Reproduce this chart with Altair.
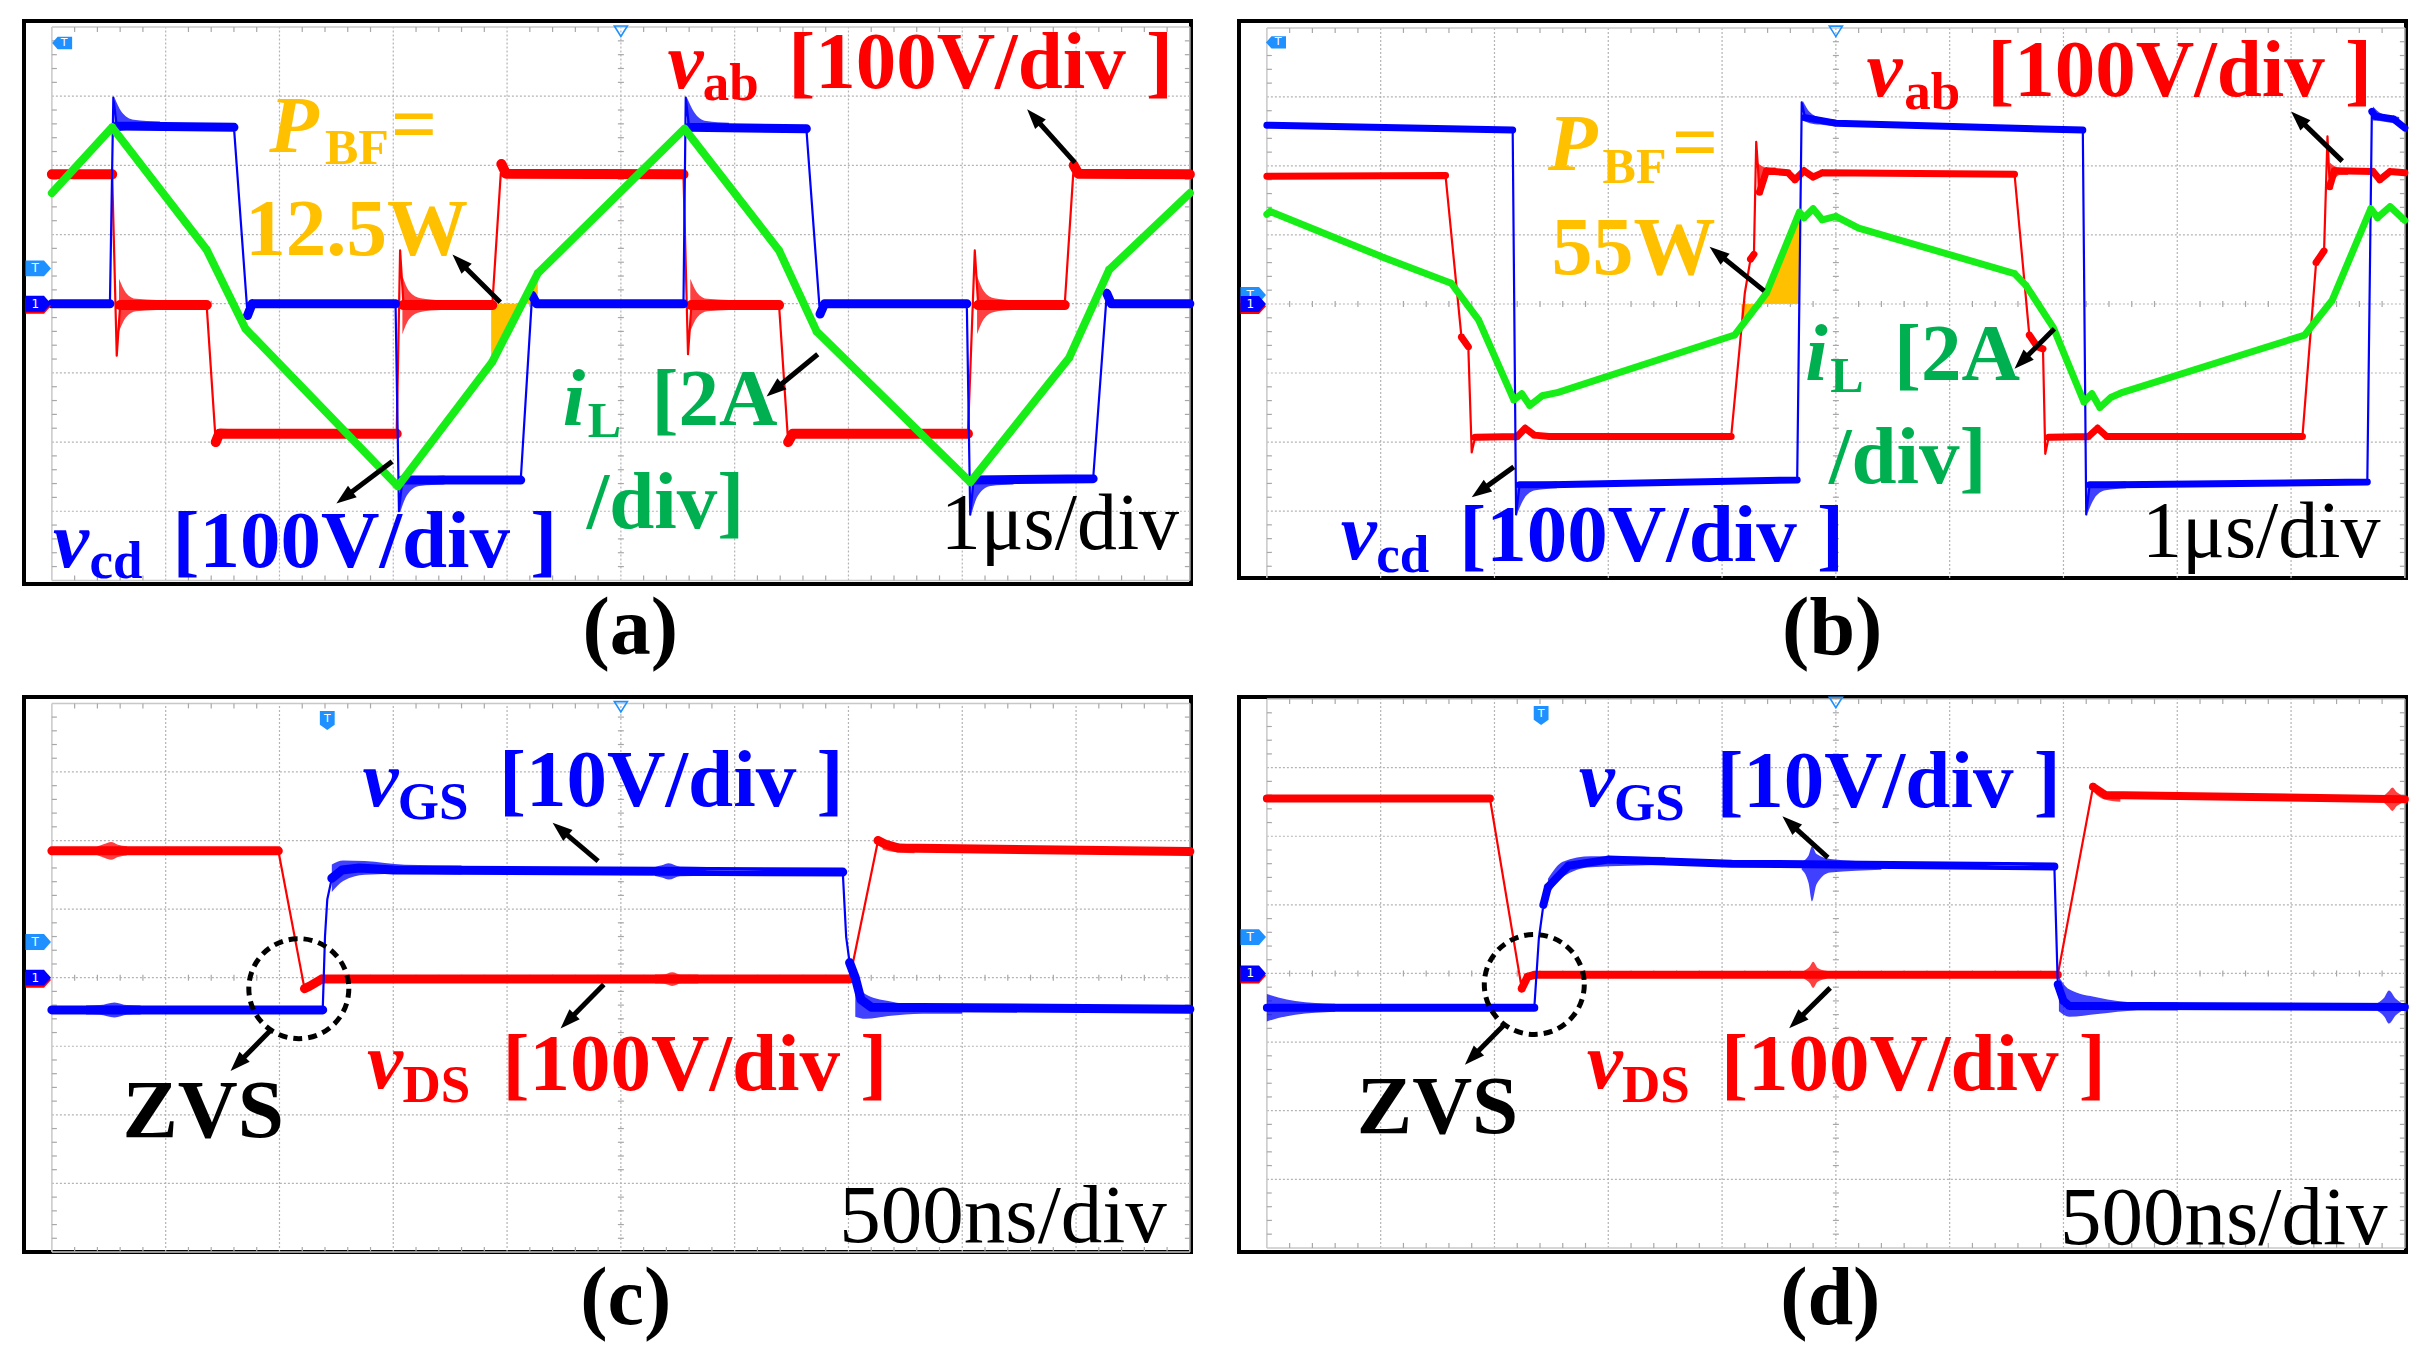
import altair as alt
import pandas as pd
import numpy as np

RED = "#FF0000"
BLUE = "#0000FF"
GREEN = "#17EE17"
GREEN_TXT = "#00B050"
ORANGE = "#FFC000"
BLACK = "#000000"
SCOPE_BLUE = "#1E90FF"
GRID = "#B4B4B4"
FONT = "Liberation Serif"

# ------------------------------------------------------------------ data (divisions)
# panel (a)
A_RED = [(0.00, 1.87), (0.53, 1.87), (0.57, -0.75), (0.60, -0.02), (1.36, -0.02), (1.44, -2.00),
         (1.47, -1.88), (3.03, -1.88), (3.06, 0.77), (3.09, -0.02), (3.87, -0.02), (3.95, 2.02),
         (3.99, 1.88), (5.55, 1.87), (5.59, -0.73), (5.62, -0.02), (6.39, -0.02), (6.47, -2.00),
         (6.51, -1.88), (8.05, -1.88), (8.11, 0.77), (8.14, -0.02), (8.90, -0.02), (8.98, 2.00),
         (9.02, 1.88), (10.00, 1.87)]
A_BLUE = [(0.00, 0.00), (0.51, 0.00), (0.54, 2.98), (0.57, 2.57), (1.60, 2.55), (1.72, -0.17),
          (1.76, 0.00), (3.02, 0.00), (3.05, -3.00), (3.08, -2.55), (4.12, -2.55), (4.22, 0.12),
          (4.26, 0.00), (5.55, 0.00), (5.57, 2.98), (5.60, 2.55), (6.63, 2.53), (6.75, -0.15),
          (6.79, 0.00), (8.04, 0.00), (8.07, -3.05), (8.10, -2.55), (9.15, -2.53), (9.27, 0.15),
          (9.31, 0.00), (10.00, 0.00)]
A_GREEN = [(0.00, 1.60), (0.53, 2.55), (1.36, 0.78), (1.70, -0.36), (3.04, -2.64), (3.87, -0.84),
           (4.27, 0.44), (5.56, 2.53), (6.39, 0.77), (6.72, -0.40), (8.07, -2.58), (8.94, -0.78),
           (9.29, 0.49), (10.00, 1.60)]
A_PBF = [(3.86, -0.84), (4.27, 0.44)]
A_RING = [("r", [0.59, 0.65, 0.74, 0.92], [-0.02, -0.02, -0.02, -0.02], [0.38, 0.18, 0.09, 0.0]),
          ("r", [3.08, 3.14, 3.24, 3.42], [-0.02, -0.02, -0.02, -0.02], [0.42, 0.2, 0.1, 0.0]),
          ("r", [5.61, 5.67, 5.76, 5.95], [-0.02, -0.02, -0.02, -0.02], [0.38, 0.18, 0.09, 0.0]),
          ("r", [8.13, 8.19, 8.28, 8.45], [-0.02, -0.02, -0.02, -0.02], [0.42, 0.2, 0.1, 0.0]),
          ("b", [0.55, 0.61, 0.72, 0.95], [2.72, 2.64, 2.59, 2.57], [0.26, 0.14, 0.07, 0.0]),
          ("b", [3.06, 3.12, 3.23, 3.45], [-2.78, -2.64, -2.57, -2.55], [0.24, 0.13, 0.06, 0.0]),
          ("b", [5.58, 5.64, 5.75, 5.95], [2.72, 2.64, 2.57, 2.55], [0.26, 0.14, 0.07, 0.0]),
          ("b", [8.08, 8.14, 8.25, 8.45], [-2.80, -2.64, -2.57, -2.55], [0.24, 0.13, 0.06, 0.0])]

# panel (b)
B_RED = [(0.00, 1.85), (1.57, 1.86), (1.71, -0.48), (1.77, -0.62), (1.80, -2.15), (1.83, -1.93),
         (2.20, -1.92), (2.27, -1.80), (2.35, -1.90), (2.48, -1.92), (4.08, -1.92), (4.20, 0.16),
         (4.25, 0.65), (4.28, 0.72), (4.30, 2.35), (4.33, 1.62), (4.39, 1.93), (4.58, 1.90),
         (4.64, 1.80), (4.72, 1.93), (4.80, 1.84), (4.88, 1.90), (6.57, 1.88), (6.70, -0.45),
         (6.77, -0.62), (6.82, -0.65), (6.84, -2.17), (6.87, -1.93), (7.22, -1.92), (7.30, -1.80),
         (7.38, -1.92), (9.10, -1.92), (9.22, 0.60), (9.29, 0.77), (9.32, 2.43), (9.34, 1.70),
         (9.38, 1.93), (9.72, 1.92), (9.78, 1.80), (9.87, 1.92), (10.00, 1.90)]
B_BLUE = [(0.00, 2.59), (2.16, 2.52), (2.19, -3.05), (2.22, -2.62), (2.50, -2.62), (4.66, -2.55),
          (4.70, 2.92), (4.73, 2.70), (5.00, 2.62), (7.17, 2.52), (7.20, -3.05), (7.23, -2.62),
          (7.50, -2.62), (9.67, -2.58), (9.71, 2.79), (9.74, 2.72), (9.90, 2.68), (10.00, 2.55)]
B_GREEN = [(0.00, 1.30), (0.03, 1.34), (1.00, 0.69), (1.62, 0.30), (1.86, -0.23), (2.17, -1.39),
           (2.24, -1.30), (2.31, -1.47), (2.42, -1.33), (2.56, -1.28), (4.11, -0.45), (4.32, 0.00),
           (4.39, 0.16), (4.68, 1.33), (4.72, 1.25), (4.80, 1.38), (4.88, 1.22), (5.00, 1.27),
           (5.20, 1.10), (6.57, 0.44), (6.67, 0.27), (6.91, -0.34), (7.18, -1.42), (7.25, -1.30),
           (7.32, -1.50), (7.42, -1.35), (7.52, -1.28), (9.12, -0.45), (9.36, 0.05), (9.70, 1.38),
           (9.76, 1.25), (9.87, 1.41), (10.00, 1.21)]
B_PBF = [(4.17, -0.34), (4.32, 0.00), (4.39, 0.16), (4.68, 1.33)]
B_RING = [("b", [2.20, 2.26, 2.36, 2.55], [-2.82, -2.70, -2.64, -2.62], [0.22, 0.12, 0.06, 0.0]),
          ("b", [4.71, 4.77, 4.86, 5.00], [2.80, 2.70, 2.65, 2.62], [0.14, 0.08, 0.04, 0.0]),
          ("b", [7.21, 7.27, 7.37, 7.55], [-2.82, -2.70, -2.64, -2.62], [0.22, 0.12, 0.06, 0.0]),
          ("b", [9.72, 9.78, 9.86, 9.95], [2.76, 2.71, 2.68, 2.66], [0.10, 0.06, 0.03, 0.0]),
          ("r", [4.31, 4.35, 4.40, 4.47], [1.85, 1.90, 1.92, 1.93], [0.20, 0.10, 0.05, 0.0]),
          ("r", [9.34, 9.38, 9.43, 9.50], [1.85, 1.90, 1.92, 1.92], [0.20, 0.10, 0.05, 0.0])]

# panel (c)
C_RED = [(0.00, 1.85), (1.99, 1.85), (2.22, -0.16), (2.27, -0.12), (2.37, -0.02), (7.01, -0.02),
         (7.26, 2.00), (7.32, 1.95), (7.44, 1.89), (10.00, 1.84)]
C_BLUE = [(0.00, -0.47), (2.38, -0.47), (2.40, 0.60), (2.42, 1.14), (2.46, 1.45), (2.55, 1.57),
          (2.70, 1.60), (3.00, 1.57), (6.95, 1.54), (6.98, 0.59), (7.01, 0.22), (7.06, 0.00),
          (7.11, -0.32), (7.20, -0.43), (10.00, -0.46)]
C_RING = [("r", [0.40, 0.46, 0.52, 0.58, 0.66], [1.85] * 5, [0.0, 0.10, 0.13, 0.09, 0.0]),
          ("r", [5.30, 5.38, 5.45, 5.53, 5.68], [-0.02] * 5, [0.0, 0.07, 0.10, 0.06, 0.0]),
          ("r", [7.30, 7.36, 7.44, 7.58], [1.95, 1.91, 1.89, 1.88], [0.08, 0.06, 0.04, 0.0]),
          ("b", [0.30, 0.42, 0.55, 0.66, 0.78], [-0.47] * 5, [0.0, 0.07, 0.11, 0.07, 0.02]),
          ("b", [2.46, 2.56, 2.75, 3.10, 3.60], [1.45, 1.56, 1.60, 1.58, 1.57], [0.20, 0.15, 0.10, 0.05, 0.0]),
          ("b", [5.30, 5.36, 5.42, 5.52, 5.75], [1.55] * 5, [0.0, 0.09, 0.12, 0.07, 0.0]),
          ("b", [7.06, 7.15, 7.35, 7.65, 8.00], [-0.32, -0.42, -0.45, -0.46, -0.46], [0.25, 0.18, 0.11, 0.05, 0.0])]

# panel (d)
D_RED = [(0.00, 2.55), (1.96, 2.55), (2.24, -0.22), (2.29, -0.05), (2.35, -0.02), (6.95, -0.02),
         (7.26, 2.72), (7.37, 2.60), (10.00, 2.54)]
D_BLUE = [(0.00, -0.50), (2.35, -0.50), (2.39, 0.51), (2.43, 1.00), (2.47, 1.26), (2.65, 1.57),
          (3.00, 1.66), (4.08, 1.60), (6.92, 1.56), (6.95, -0.16), (7.00, -0.40), (7.05, -0.47),
          (10.00, -0.49)]
D_RING = [("b", [0.00, 0.10, 0.25, 0.60], [-0.50] * 4, [0.20, 0.15, 0.10, 0.0]),
          ("b", [2.47, 2.60, 2.85, 3.50], [1.26, 1.52, 1.63, 1.64], [0.12, 0.11, 0.08, 0.0]),
          ("b", [4.70, 4.76, 4.79, 4.83, 4.95, 5.40], [1.57, 1.52, 1.45, 1.52, 1.57, 1.57],
           [0.0, 0.20, 0.40, 0.22, 0.10, 0.0]),
          ("b", [6.96, 7.05, 7.30, 7.65, 8.00], [-0.30, -0.43, -0.47, -0.48, -0.48], [0.25, 0.20, 0.12, 0.05, 0.0]),
          ("b", [9.76, 9.82, 9.86, 9.92, 9.97], [-0.49] * 5, [0.0, 0.14, 0.24, 0.12, 0.05]),
          ("r", [4.72, 4.77, 4.80, 4.84, 4.92], [-0.02] * 5, [0.0, 0.12, 0.19, 0.10, 0.0]),
          ("r", [7.28, 7.35, 7.50], [2.68, 2.60, 2.56], [0.06, 0.05, 0.0]),
          ("r", [9.82, 9.86, 9.89, 9.93, 9.97], [2.54] * 5, [0.0, 0.12, 0.17, 0.10, 0.04])]

# ------------------------------------------------------------------ annotations
A_TEXT = [("P", 1.91, 2.20, ORANGE, 81, "bi"), ("BF", 2.40, 2.02, ORANGE, 50, "b"),
          ("=", 2.98, 2.21, ORANGE, 81, "b"), ("12.5W", 1.70, 0.70, ORANGE, 81, "b"),
          ("v", 5.41, 3.12, RED, 81, "bi"), ("ab", 5.72, 2.94, RED, 53, "b"),
          ("[100V/div ]", 6.47, 3.12, RED, 81, "b"),
          ("i", 4.49, -1.75, GREEN_TXT, 81, "bi"), ("L", 4.71, -1.92, GREEN_TXT, 50, "b"),
          ("[2A", 5.27, -1.75, GREEN_TXT, 81, "b"), ("/div]", 4.70, -3.24, GREEN_TXT, 81, "b"),
          ("v", 0.01, -3.80, BLUE, 81, "bi"), ("cd", 0.33, -3.96, BLUE, 53, "b"),
          ("[100V/div ]", 1.06, -3.81, BLUE, 81, "b"),
          ("1μs/div", 7.81, -3.55, BLACK, 80, "r")]
B_TEXT = [("P", 2.47, 1.94, ORANGE, 81, "bi"), ("BF", 2.95, 1.76, ORANGE, 50, "b"),
          ("=", 3.56, 1.95, ORANGE, 81, "b"), ("55W", 2.50, 0.43, ORANGE, 82, "b"),
          ("v", 5.27, 3.02, RED, 81, "bi"), ("ab", 5.60, 2.82, RED, 53, "b"),
          ("[100V/div ]", 6.33, 3.02, RED, 81, "b"),
          ("i", 4.73, -1.10, GREEN_TXT, 81, "bi"), ("L", 4.95, -1.27, GREEN_TXT, 50, "b"),
          ("[2A", 5.51, -1.10, GREEN_TXT, 81, "b"), ("/div]", 4.94, -2.60, GREEN_TXT, 81, "b"),
          ("v", 0.65, -3.69, BLUE, 81, "bi"), ("cd", 0.96, -3.89, BLUE, 53, "b"),
          ("[100V/div ]", 1.69, -3.72, BLUE, 81, "b"),
          ("1μs/div", 7.69, -3.66, BLACK, 80, "r")]
C_TEXT = [("v", 2.73, 2.51, BLUE, 81, "bi"), ("GS", 3.04, 2.31, BLUE, 53, "b"),
          ("[10V/div ]", 3.93, 2.50, BLUE, 81, "b"),
          ("v", 2.77, -1.61, RED, 81, "bi"), ("DS", 3.08, -1.81, RED, 53, "b"),
          ("[100V/div ]", 3.96, -1.64, RED, 81, "b"),
          ("ZVS", 0.62, -2.33, BLACK, 83, "b"), ("500ns/div", 6.92, -3.86, BLACK, 83, "r")]
D_TEXT = [("v", 2.74, 2.44, BLUE, 81, "bi"), ("GS", 3.05, 2.24, BLUE, 53, "b"),
          ("[10V/div ]", 3.95, 2.43, BLUE, 81, "b"),
          ("v", 2.81, -1.67, RED, 81, "bi"), ("DS", 3.12, -1.87, RED, 53, "b"),
          ("[100V/div ]", 3.99, -1.70, RED, 81, "b"),
          ("ZVS", 0.79, -2.32, BLACK, 83, "b"), ("500ns/div", 6.97, -3.94, BLACK, 83, "r")]

A_ARROWS = [(8.99, 2.04, 8.57, 2.81), (3.94, 0.02, 3.52, 0.71), (6.73, -0.73, 6.28, -1.34),
            (2.99, -2.28, 2.50, -2.89)]
B_ARROWS = [(9.45, 2.07, 9.00, 2.79), (4.37, 0.19, 3.89, 0.83), (6.92, -0.36, 6.57, -0.94),
            (2.17, -2.36, 1.80, -2.80)]
C_ARROWS = [(4.80, 1.70, 4.40, 2.26), (4.85, -0.10, 4.47, -0.74), (1.92, -0.77, 1.57, -1.36)]
D_ARROWS = [(4.93, 1.69, 4.53, 2.29), (4.95, -0.21, 4.59, -0.80), (2.09, -0.74, 1.74, -1.33)]

XMIN, XMAX = -0.245, 10.01
W = 1167
PPX = W / (XMAX - XMIN)
COLS = {"r": RED, "b": BLUE, "g": GREEN}

PANELS = [
    dict(h=563, ydom=(-4.052, 4.087), traces=[(A_RED, "r", 10), (A_BLUE, "b", 9), (A_GREEN, "g", 8)],
         ring=A_RING, pbf=A_PBF, texts=A_TEXT, arrows=A_ARROWS, circle=None,
         markers=[("T", -0.12, 0.51), ("1", -0.12, 0.0), ("TL", 0.09, 3.77), ("trig", 5.0, 3.94)],
         caption=("(a)", 5.083, -5.065)),
    dict(h=557, ydom=(-3.97, 4.10), traces=[(B_RED, "r", 7), (B_BLUE, "b", 7), (B_GREEN, "g", 7)],
         ring=B_RING, pbf=B_PBF, texts=B_TEXT, arrows=B_ARROWS, circle=None,
         markers=[("T", -0.12, 0.13), ("1", -0.12, 0.0), ("TL", 0.08, 3.79), ("trig", 5.0, 3.95)],
         caption=("(b)", 4.968, -5.074)),
    dict(h=555, ydom=(-4.0, 4.093), traces=[(C_RED, "r", 9), (C_BLUE, "b", 9)],
         ring=C_RING, pbf=None, texts=C_TEXT, arrows=C_ARROWS, circle=(2.17, -0.16),
         markers=[("T", -0.12, 0.52), ("1", -0.12, 0.0), ("TD", 2.42, 3.75), ("trig", 5.0, 3.95)],
         caption=("(c)", 5.043, -5.051)),
    dict(h=555, ydom=(-4.06, 4.03), traces=[(D_RED, "r", 8), (D_BLUE, "b", 8)],
         ring=D_RING, pbf=None, texts=D_TEXT, arrows=D_ARROWS, circle=(2.35, -0.16),
         markers=[("T", -0.12, 0.53), ("1", -0.12, 0.0), ("TD", 2.41, 3.76), ("trig", 5.0, 3.95)],
         caption=("(d)", 4.951, -5.11)),
]

SHAPE_RIGHT = "M-1,-0.62 L0.45,-0.62 L1,0 L0.45,0.62 L-1,0.62 Z"
SHAPE_LEFT = "M1,-0.62 L-0.45,-0.62 L-1,0 L-0.45,0.62 L1,0.62 Z"
SHAPE_DOWN = "M-0.78,-1 L0.78,-1 L0.78,0.45 L0,1 L-0.78,0.45 Z"
SHAPE_TRIG = "M-1,-0.8 L1,-0.8 L0,0.8 Z"
HEAD = "M0,0 L0.72,2 L-0.72,2 Z"
HEAD_SIZE = 400
HEAD_BACK = 10


def make_panel(p):
    ymin, ymax = p["ydom"]
    H = p["h"]
    ppy = H / (ymax - ymin)
    xs = alt.Scale(domain=[XMIN, XMAX], nice=False, zero=False)
    ys = alt.Scale(domain=[ymin, ymax], nice=False, zero=False)
    X = alt.X("x:Q", scale=xs, axis=None)
    Y = alt.Y("y:Q", scale=ys, axis=None)
    layers = []

    def rules(rows, **kw):
        return alt.Chart(pd.DataFrame(rows)).mark_rule(**kw).encode(
            x=X, x2=alt.X2("x2"), y=Y, y2=alt.Y2("y2"))

    ylo, yhi = max(-4.0, ymin), min(4.0, ymax)
    dotted = [dict(x=g, x2=g, y=ylo, y2=yhi) for g in range(1, 10)]
    dotted += [dict(x=0, x2=10, y=g, y2=g) for g in range(-3, 4)]
    layers.append(rules(dotted, color=GRID, strokeWidth=1.2, strokeDash=[2, 2]))
    frame = [dict(x=0, x2=0, y=ylo, y2=yhi), dict(x=10, x2=10, y=ylo, y2=yhi)]
    if ymax >= 4:
        frame.append(dict(x=0, x2=10, y=4, y2=4))
    if ymin <= -4:
        frame.append(dict(x=0, x2=10, y=-4, y2=-4))
    layers.append(rules(frame, color="#C8C8C8", strokeWidth=1.5))
    ticks = []
    for k in range(1, 50):
        if k % 5 == 0:
            continue
        mx = k / 5
        if ymax >= 4:
            ticks.append(dict(x=mx, x2=mx, y=4, y2=4 - 5 / ppy))
        if ymin <= -4:
            ticks.append(dict(x=mx, x2=mx, y=-4, y2=-4 + 5 / ppy))
        ticks.append(dict(x=mx, x2=mx, y=-3 / ppy, y2=3 / ppy))
    for k in range(-19, 20):
        if k % 5 == 0:
            continue
        my = k / 5
        if my < ymin or my > ymax:
            continue
        ticks.append(dict(x=0, x2=5 / PPX, y=my, y2=my))
        ticks.append(dict(x=10, x2=10 - 5 / PPX, y=my, y2=my))
        ticks.append(dict(x=5 - 3 / PPX, x2=5 + 3 / PPX, y=my, y2=my))
    layers.append(rules(ticks, color="#A8A8A8", strokeWidth=1.2))

    if p["pbf"] is not None:
        dfp = pd.DataFrame(p["pbf"], columns=["x", "y"])
        dfp["z"] = 0.0
        layers.append(alt.Chart(dfp).mark_area(color=ORANGE, opacity=1).encode(
            x=X, y=Y, y2=alt.Y2("z")))

    for pts, key, band in p["traces"]:
        rows = []
        for (x0, y0), (x1, y1) in zip(pts[:-1], pts[1:]):
            steep = abs((y1 - y0) * ppy) > 4 * abs((x1 - x0) * PPX)
            w = 2.2 if steep else band
            rows.append((x0, y0, w))
            rows.append((x1, y1, w))
        df = pd.DataFrame(rows, columns=["x", "y", "w"])
        df["i"] = np.arange(len(df))
        layers.append(alt.Chart(df).mark_trail(color=COLS[key]).encode(
            x=X, y=Y, size=alt.Size("w:Q", scale=None, legend=None), order=alt.Order("i:Q")))
        # ringing envelopes: band of half-height = max(trace half width, envelope amplitude)
        brows = []
        for gi, (ck, bx, by, ba) in enumerate(p["ring"]):
            if ck != key:
                continue
            for xx, yy, aa in zip(bx, by, ba):
                half = max(band / 2 / ppy, aa)
                brows.append(dict(x=xx, y=yy + half, y2=yy - half, g=gi))
        if brows:
            layers.append(alt.Chart(pd.DataFrame(brows)).mark_area(
                color=COLS[key], opacity=0.75, interpolate="monotone").encode(
                x=X, y=Y, y2=alt.Y2("y2"), detail="g:N"))

    # arrows
    lines, heads = [], []
    for xt, yt, xh, yh in p["arrows"]:
        dxp = (xh - xt) * PPX
        dyp = -(yh - yt) * ppy
        L = float(np.hypot(dxp, dyp))
        ux, uy = dxp / L, dyp / L
        ang = float(np.degrees(np.arctan2(ux, -uy)) % 360)
        xe = xh - HEAD_BACK * ux / PPX
        ye = yh + HEAD_BACK * uy / ppy
        lines.append(dict(x=xt, y=yt, x2=xe, y2=ye))
        heads.append(dict(x=xh, y=yh, ang=ang))
    layers.append(rules(lines, color=BLACK, strokeWidth=5))
    layers.append(alt.Chart(pd.DataFrame(heads)).mark_point(
        shape=HEAD, filled=True, size=HEAD_SIZE, color=BLACK, opacity=1, strokeWidth=0).encode(
        x=X, y=Y, angle=alt.Angle("ang:Q", scale=None)))

    if p["circle"] is not None:
        cx, cy = p["circle"]
        layers.append(alt.Chart(pd.DataFrame([dict(x=cx, y=cy)])).mark_point(
            shape="circle", size=10000, filled=False, color=BLACK, opacity=1,
            strokeWidth=5, strokeDash=[9, 6]).encode(x=X, y=Y))

    # texts
    tdf = pd.DataFrame(p["texts"], columns=["t", "x", "y", "c", "s", "st"])
    for st, kw in [("b", dict(fontWeight="bold")),
                   ("bi", dict(fontWeight="bold", fontStyle="italic")),
                   ("r", dict(fontWeight="normal"))]:
        sub = tdf[tdf["st"] == st]
        if len(sub) == 0:
            continue
        layers.append(alt.Chart(sub).mark_text(
            font=FONT, align="left", baseline="alphabetic", **kw).encode(
            x=X, y=Y, text="t:N", color=alt.Color("c:N", scale=None),
            size=alt.Size("s:Q", scale=None, legend=None)))

    # scope markers
    for kind, mx, my in p["markers"]:
        one = pd.DataFrame([dict(x=mx, y=my)])
        if kind in ("T", "1"):
            if kind == "1":
                red = pd.DataFrame([dict(x=mx, y=my - 2.2 / ppy)])
                layers.append(alt.Chart(red).mark_point(shape=SHAPE_RIGHT, size=655, filled=True,
                                                        color=RED, opacity=1, strokeWidth=0).encode(x=X, y=Y))
            col = SCOPE_BLUE if kind == "T" else BLUE
            layers.append(alt.Chart(one).mark_point(shape=SHAPE_RIGHT, size=655, filled=True,
                                                    color=col, opacity=1, strokeWidth=0).encode(x=X, y=Y))
            layers.append(alt.Chart(one).mark_text(text=kind, color="white", font="DejaVu Sans",
                                                   fontSize=12, baseline="middle", align="center",
                                                   dx=-3).encode(x=X, y=Y))
        elif kind == "TL":
            layers.append(alt.Chart(one).mark_point(shape=SHAPE_LEFT, size=400, filled=True,
                                                    color=SCOPE_BLUE, opacity=1, strokeWidth=0).encode(x=X, y=Y))
            layers.append(alt.Chart(one).mark_text(text="T", color="white", font="DejaVu Sans",
                                                   fontSize=11, baseline="middle", align="center",
                                                   dx=2).encode(x=X, y=Y))
        elif kind == "TD":
            layers.append(alt.Chart(one).mark_point(shape=SHAPE_DOWN, size=361, filled=True,
                                                    color=SCOPE_BLUE, opacity=1, strokeWidth=0).encode(x=X, y=Y))
            layers.append(alt.Chart(one).mark_text(text="T", color="white", font="DejaVu Sans",
                                                   fontSize=11, baseline="middle", align="center",
                                                   dy=-2).encode(x=X, y=Y))
        elif kind == "trig":
            layers.append(alt.Chart(one).mark_point(shape=SHAPE_TRIG, size=170, filled=False,
                                                    color=SCOPE_BLUE, opacity=1, strokeWidth=1.6).encode(x=X, y=Y))

    cap, capx, capy = p["caption"]
    layers.append(alt.Chart(pd.DataFrame([dict(x=capx, y=capy, t=cap)])).mark_text(
        font=FONT, fontWeight="bold", fontSize=82, align="center", baseline="alphabetic",
        color=BLACK).encode(x=X, y=Y, text="t:N"))

    return alt.layer(*layers).properties(width=W, height=H)


panels = [make_panel(p) for p in PANELS]
chart = alt.concat(*panels, columns=2, spacing={"row": 113, "column": 48}, bounds="flush").properties(
    padding={"left": 14, "top": 11, "right": 5, "bottom": 5},
    background="white",
).configure_view(stroke=BLACK, strokeWidth=4)

chart.save("out.html", embed_options={"renderer": "svg", "actions": False})
